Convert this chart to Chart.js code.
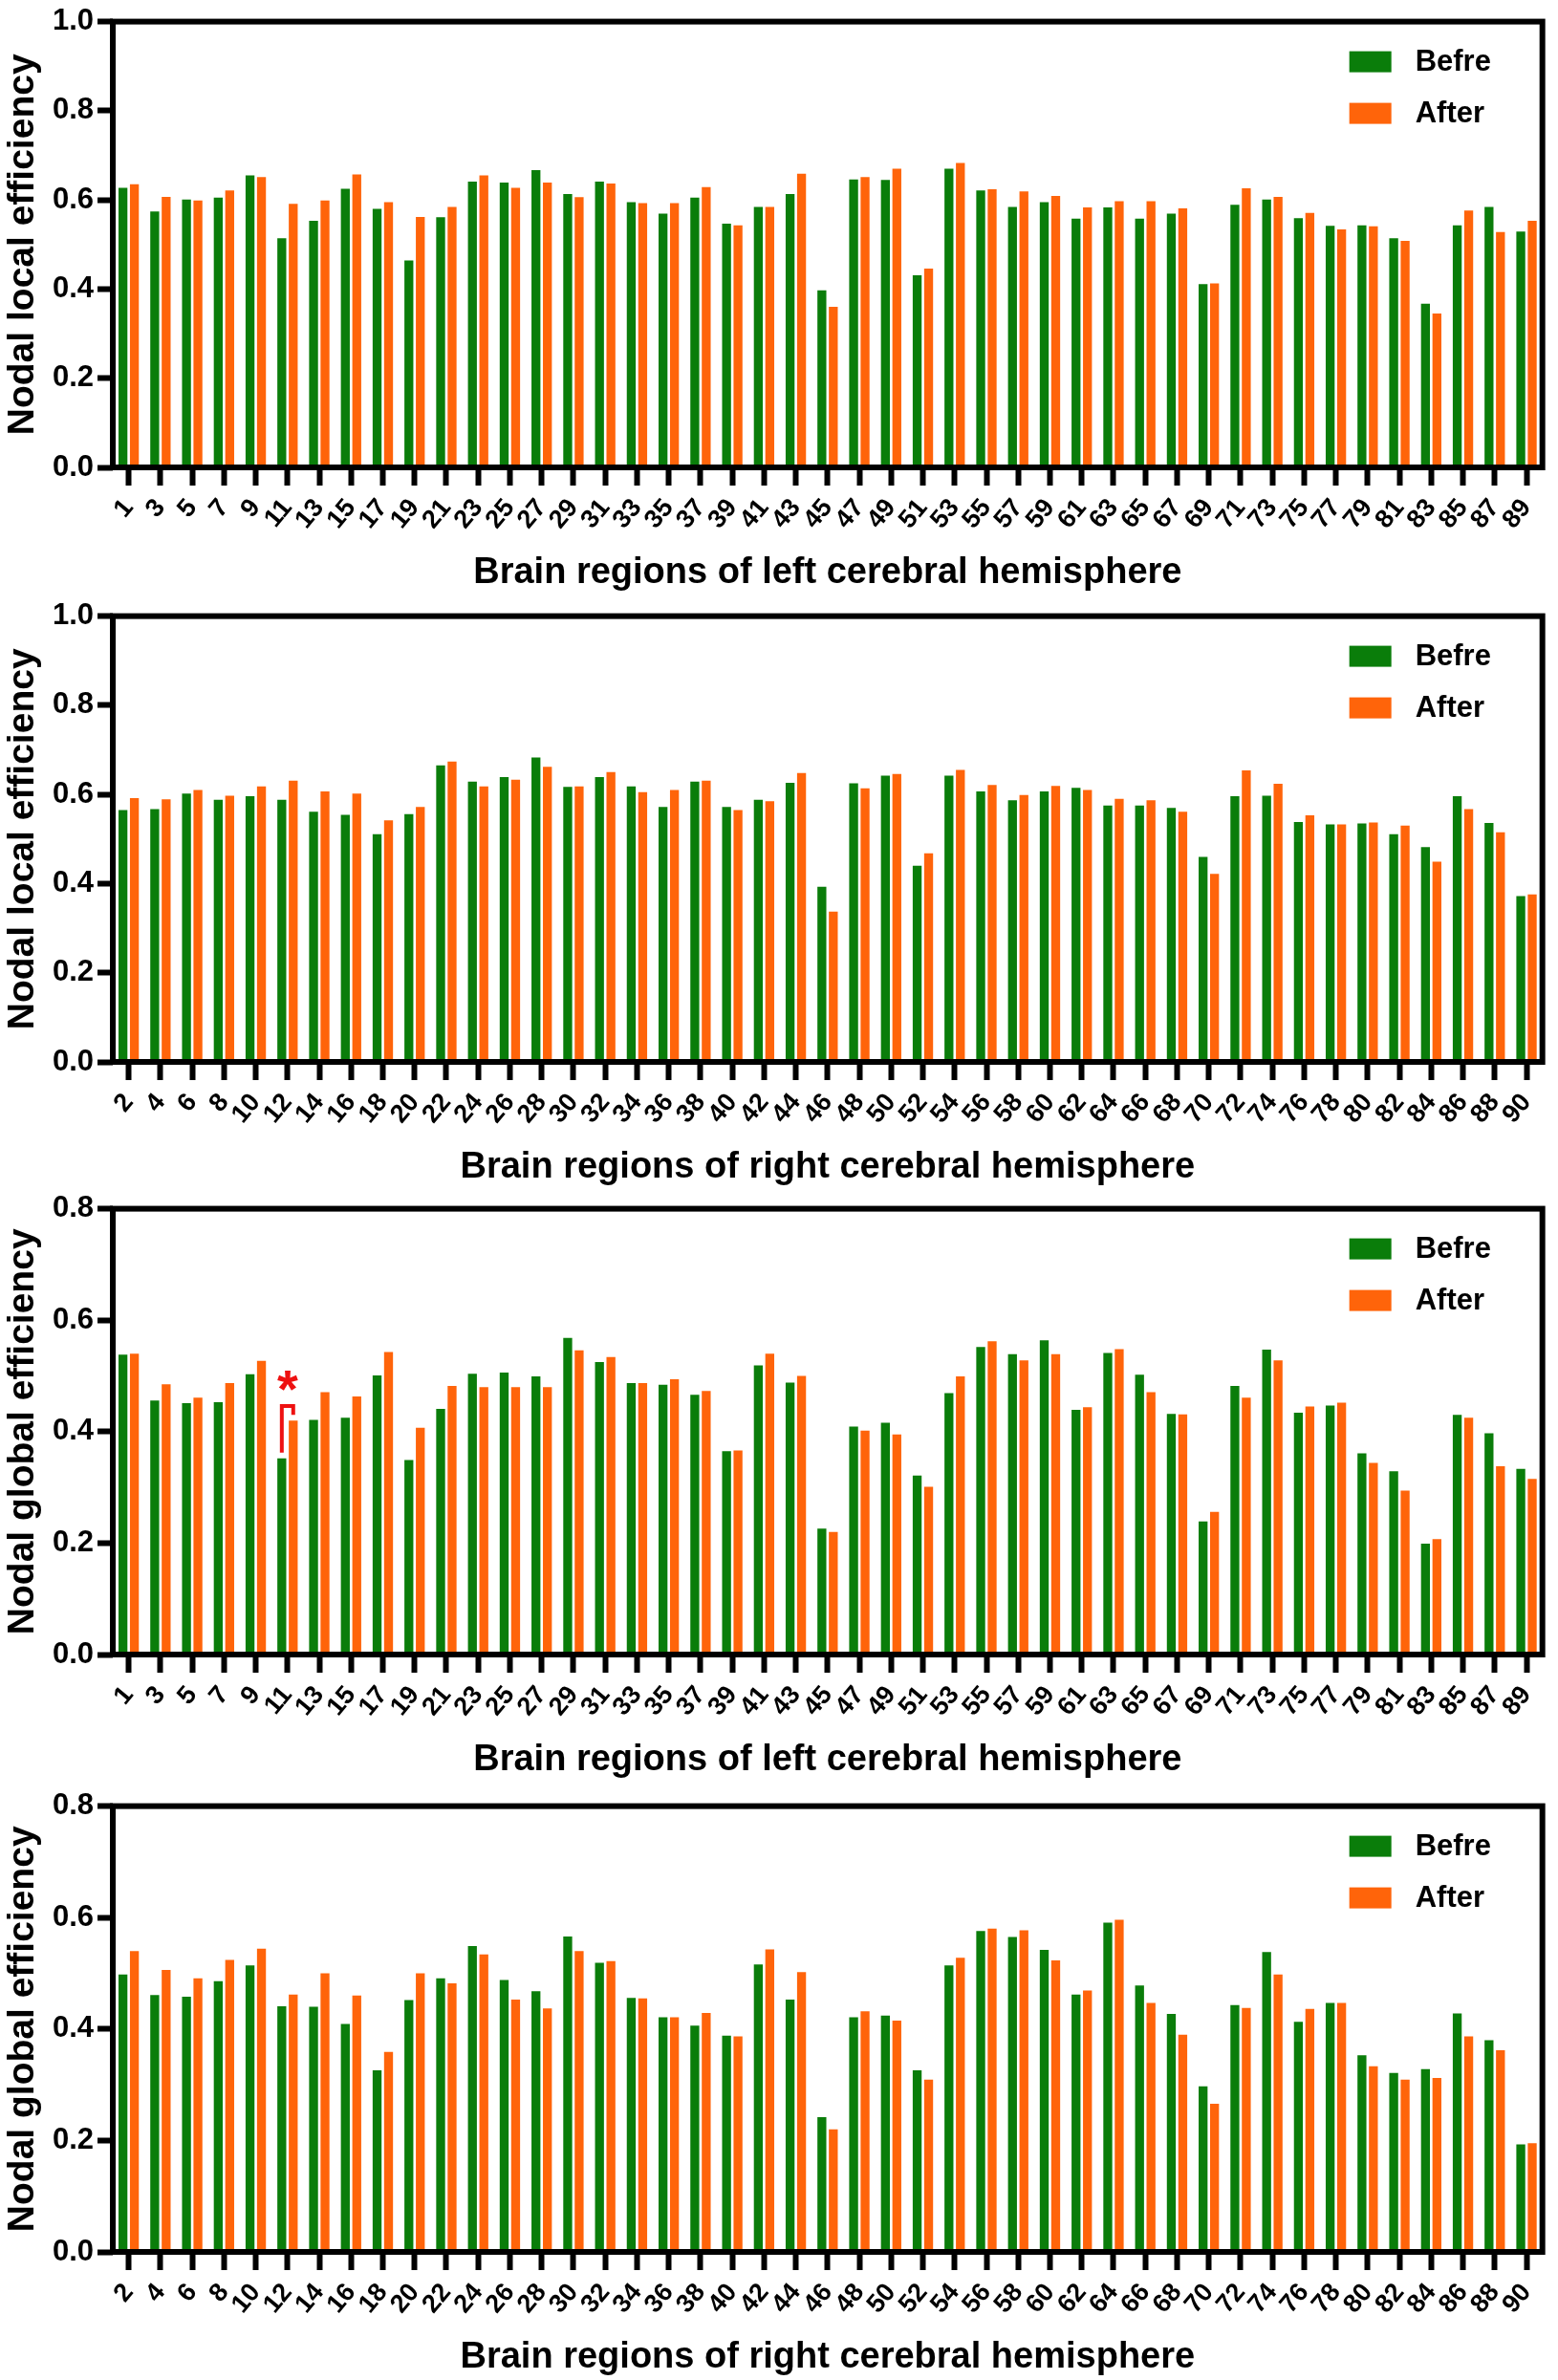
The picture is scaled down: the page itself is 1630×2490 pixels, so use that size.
<!DOCTYPE html>
<html>
<head>
<meta charset="utf-8">
<script src="https://cdn.jsdelivr.net/npm/chart.js@4.4.1/dist/chart.umd.min.js"></script>
<style>
  body { margin: 0; background: #fff; }
  .panel { position: absolute; left: 0; width: 1630px; height: 622px; }
</style>
</head>
<body>
<div class="panel" style="top:0px"><canvas id="p1" width="1630" height="622"></canvas></div>
<div class="panel" style="top:622px"><canvas id="p2" width="1630" height="622"></canvas></div>
<div class="panel" style="top:1242px"><canvas id="p3" width="1630" height="622"></canvas></div>
<div class="panel" style="top:1867px"><canvas id="p4" width="1630" height="622"></canvas></div>
<script>
// brain region numbers (tick labels)
const leftRegions = ['1','3','5','7','9','11','13','15','17','19','21','23','25','27','29','31','33','35','37','39','41','43','45','47','49','51','53','55','57','59','61','63','65','67','69','71','73','75','77','79','81','83','85','87','89'];
const rightRegions = ['2','4','6','8','10','12','14','16','18','20','22','24','26','28','30','32','34','36','38','40','42','44','46','48','50','52','54','56','58','60','62','64','66','68','70','72','74','76','78','80','82','84','86','88','90'];

// nodal local efficiency
const localLeftBefore = [0.627,0.574,0.601,0.605,0.655,0.514,0.553,0.625,0.580,0.464,0.561,0.641,0.639,0.667,0.613,0.641,0.595,0.569,0.605,0.547,0.584,0.613,0.397,0.646,0.645,0.431,0.670,0.621,0.584,0.595,0.558,0.583,0.558,0.569,0.411,0.589,0.601,0.559,0.542,0.543,0.514,0.367,0.543,0.584,0.529];
const localLeftAfter = [0.635,0.607,0.599,0.621,0.651,0.591,0.599,0.657,0.595,0.562,0.584,0.655,0.627,0.639,0.606,0.637,0.593,0.593,0.629,0.543,0.584,0.659,0.360,0.651,0.670,0.446,0.683,0.624,0.619,0.609,0.583,0.597,0.597,0.581,0.413,0.626,0.607,0.571,0.534,0.541,0.508,0.345,0.576,0.528,0.553];
const localRightBefore = [0.565,0.567,0.602,0.588,0.596,0.588,0.561,0.554,0.511,0.556,0.665,0.629,0.639,0.683,0.617,0.639,0.618,0.572,0.629,0.572,0.588,0.626,0.393,0.625,0.642,0.440,0.642,0.607,0.587,0.607,0.615,0.575,0.575,0.570,0.460,0.596,0.597,0.538,0.533,0.535,0.511,0.482,0.596,0.536,0.372];
const localRightAfter = [0.592,0.589,0.610,0.597,0.618,0.631,0.607,0.602,0.542,0.572,0.674,0.618,0.633,0.662,0.618,0.650,0.605,0.610,0.631,0.565,0.585,0.648,0.337,0.614,0.646,0.468,0.655,0.621,0.599,0.619,0.610,0.590,0.587,0.561,0.422,0.654,0.624,0.553,0.533,0.537,0.530,0.449,0.567,0.515,0.376];

// nodal global efficiency
const globalLeftBefore = [0.538,0.456,0.451,0.453,0.503,0.352,0.421,0.425,0.501,0.349,0.441,0.504,0.506,0.499,0.568,0.525,0.487,0.484,0.466,0.365,0.519,0.488,0.226,0.409,0.416,0.321,0.469,0.552,0.539,0.564,0.439,0.541,0.502,0.432,0.239,0.482,0.547,0.434,0.447,0.361,0.329,0.199,0.430,0.397,0.333];
const globalLeftAfter = [0.540,0.485,0.461,0.487,0.527,0.420,0.471,0.463,0.543,0.407,0.482,0.480,0.480,0.480,0.546,0.534,0.487,0.494,0.473,0.366,0.540,0.500,0.220,0.402,0.395,0.301,0.499,0.562,0.528,0.539,0.444,0.548,0.471,0.431,0.256,0.461,0.528,0.445,0.452,0.344,0.294,0.207,0.425,0.338,0.315];
const globalRightBefore = [0.498,0.461,0.458,0.486,0.514,0.441,0.440,0.409,0.326,0.452,0.491,0.549,0.488,0.468,0.566,0.519,0.456,0.421,0.406,0.388,0.516,0.453,0.242,0.421,0.424,0.326,0.514,0.576,0.565,0.542,0.462,0.591,0.478,0.427,0.297,0.443,0.538,0.413,0.447,0.353,0.321,0.328,0.428,0.380,0.193];
const globalRightAfter = [0.540,0.506,0.491,0.524,0.544,0.462,0.500,0.460,0.359,0.500,0.482,0.534,0.453,0.437,0.540,0.522,0.455,0.421,0.429,0.387,0.543,0.502,0.220,0.432,0.415,0.309,0.528,0.580,0.577,0.523,0.469,0.596,0.447,0.390,0.266,0.438,0.498,0.436,0.447,0.333,0.309,0.312,0.387,0.362,0.195];

// significant difference marker (region 11, left global efficiency)
const sigRegion = '11';
const sigBracketTop = 0.446;
const sigStarLevel = 0.49;

const GREEN = '#0a7d0a';
const ORANGE = '#ff640a';
const FONT = "'Liberation Sans', Arial, sans-serif";

// thick black frame around the plot area
const framePlugin = {
  id: 'frame',
  afterDraw(chart) {
    const a = chart.chartArea, ctx = chart.ctx;
    ctx.save();
    ctx.strokeStyle = '#000';
    ctx.lineWidth = 6;
    ctx.strokeRect(a.left, a.top, a.right - a.left, a.bottom - a.top);
    ctx.restore();
  }
};

// legend drawn inside the top right corner
const insideLegend = {
  id: 'insideLegend',
  afterDraw(chart) {
    const a = chart.chartArea, ctx = chart.ctx;
    ctx.save();
    ctx.font = 'bold 31px ' + FONT;
    ctx.textBaseline = 'middle';
    chart.data.datasets.forEach((ds, i) => {
      const cy = a.top + 42 + i * 54;
      ctx.fillStyle = ds.backgroundColor;
      ctx.fillRect(a.right - 202, cy - 11, 44, 22);
      ctx.fillStyle = '#000';
      ctx.fillText(ds.label, a.right - 133, cy + 1);
    });
    ctx.restore();
  }
};

// red bracket + asterisk
const sigPlugin = {
  id: 'sigMark',
  afterDatasetsDraw(chart, args, opts) {
    if (!opts || !opts.label) return;
    const idx = chart.data.labels.indexOf(opts.label);
    if (idx < 0) return;
    const b0 = chart.getDatasetMeta(0).data[idx];
    const b1 = chart.getDatasetMeta(1).data[idx];
    const y = chart.scales.y;
    const yTop = y.getPixelForValue(opts.top);
    const ctx = chart.ctx;
    ctx.save();
    ctx.strokeStyle = '#ee1111';
    ctx.lineWidth = 4;
    ctx.beginPath();
    ctx.moveTo(b0.x, b0.y - 6);
    ctx.lineTo(b0.x, yTop);
    ctx.lineTo(b1.x, yTop);
    ctx.lineTo(b1.x, b1.y - 6);
    ctx.stroke();
    ctx.fillStyle = '#ee1111';
    ctx.font = 'bold 56px ' + FONT;
    ctx.textAlign = 'center';
    ctx.textBaseline = 'middle';
    ctx.fillText('*', (b0.x + b1.x) / 2, y.getPixelForValue(opts.star) + 11);
    ctx.restore();
  }
};

function makePanel(id, labels, before, after, yMax, yTitle, xTitle, sig) {
  new Chart(document.getElementById(id), {
    type: 'bar',
    data: {
      labels: labels,
      datasets: [
        { label: 'Befre', data: before, backgroundColor: GREEN },
        { label: 'After', data: after, backgroundColor: ORANGE }
      ]
    },
    options: {
      responsive: false,
      animation: false,
      devicePixelRatio: 1,
      layout: { padding: { top: 16, right: 12, left: 0, bottom: 0 } },
      datasets: { bar: { categoryPercentage: 0.72, barPercentage: 0.78, borderWidth: 0 } },
      plugins: {
        legend: { display: false },
        tooltip: { enabled: false },
        sigMark: sig
      },
      scales: {
        x: {
          offset: true,
          afterFit(axis) { axis.height = 133; },
          border: { display: false },
          grid: {
            offset: false, drawOnChartArea: false, drawTicks: true,
            tickLength: 19, tickWidth: 6, tickColor: '#000'
          },
          ticks: {
            autoSkip: false, maxRotation: 50, minRotation: 50, padding: 8,
            color: '#000', font: { family: FONT, size: 27, weight: 'bold' }
          },
          title: {
            display: true, text: xTitle, color: '#000',
            font: { family: FONT, size: 38, weight: 'bold' },
            padding: { top: 6, bottom: 0 }
          }
        },
        y: {
          min: 0, max: yMax,
          afterFit(axis) { axis.width = 118; },
          border: { display: false },
          grid: {
            drawOnChartArea: false, drawTicks: true,
            tickLength: 16, tickWidth: 6, tickColor: '#000'
          },
          ticks: {
            stepSize: 0.2, padding: 4, color: '#000',
            font: { family: FONT, size: 31, weight: 'bold' },
            callback: v => Number(v).toFixed(1)
          },
          title: {
            display: true, text: yTitle, color: '#000',
            font: { family: FONT, size: 39, weight: 'bold' },
            padding: { top: 1, bottom: 0 }
          }
        }
      }
    },
    plugins: [framePlugin, insideLegend, sigPlugin]
  });
}

makePanel('p1', leftRegions, localLeftBefore, localLeftAfter, 1.0,
  'Nodal local efficiency', 'Brain regions of left cerebral hemisphere', {});
makePanel('p2', rightRegions, localRightBefore, localRightAfter, 1.0,
  'Nodal local efficiency', 'Brain regions of right cerebral hemisphere', {});
makePanel('p3', leftRegions, globalLeftBefore, globalLeftAfter, 0.8,
  'Nodal global efficiency', 'Brain regions of left cerebral hemisphere',
  { label: sigRegion, top: sigBracketTop, star: sigStarLevel });
makePanel('p4', rightRegions, globalRightBefore, globalRightAfter, 0.8,
  'Nodal global efficiency', 'Brain regions of right cerebral hemisphere', {});
</script>
</body>
</html>
